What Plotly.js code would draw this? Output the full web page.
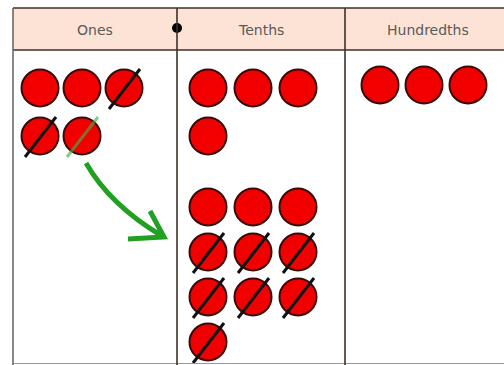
<!DOCTYPE html>
<html>
<head>
<meta charset="utf-8">
<script src="https://cdn.plot.ly/plotly-3.0.1.min.js"></script>
<style>
  html, body { margin: 0; padding: 0; background: #ffffff; }
  #chart { width: 504px; height: 365px; }
</style>
</head>
<body>
<div id="chart"></div>
<script>
// ---- DATA ----
const columnLabels = ["Ones", "Tenths", "Hundredths"];
// counter groups: which column each group sits in, how many counters, how many are crossed out (the last ones)
const groupColumn  = [0, 1, 1, 2];
const groupCount   = [5, 4, 10, 3];
const groupCrossed = [3, 0, 7, 0];
// how many of the crossed counters (the very last ones) are crossed in green (exchanged)
const groupExchanged = [1, 0, 0, 0];

// ---- LAYOUT (positions / styles, not data) ----
const W = 504, H = 365;
const colEdges = [13, 177, 345, 511];
const headerTop = 8, headerBottom = 50;
const groupX0 = [40, 208, 208, 380];
const groupY0 = [88, 88, 207, 85];
const groupDX = [42, 45, 45, 44];
const groupDY = [48, 48, 45, 45];
const perRow = 3;
const counterSize = 37;

const cx = [], cy = [];
const slashX = [], slashY = [];
const greenX = [], greenY = [];
for (let g = 0; g < groupCount.length; g++) {
  const n = groupCount[g];
  for (let i = 0; i < n; i++) {
    const x = groupX0[g] + (i % perRow) * groupDX[g];
    const y = groupY0[g] + Math.floor(i / perRow) * groupDY[g];
    cx.push(x); cy.push(y);
    if (i >= n - groupCrossed[g]) {
      const isGreen = i >= n - groupExchanged[g];
      const tx = isGreen ? greenX : slashX;
      const ty = isGreen ? greenY : slashY;
      tx.push(x - 15, x + 16, null);
      ty.push(y + 21, y - 19, null);
    }
  }
}

const traces = [
  {
    type: "scatter", mode: "markers", x: cx, y: cy, hoverinfo: "skip",
    marker: { symbol: "circle", size: counterSize, color: "#f20000",
              line: { color: "#3a0a0a", width: 2 } }
  },
  {
    type: "scatter", mode: "lines", x: slashX, y: slashY, hoverinfo: "skip",
    line: { color: "#111111", width: 3 }
  },
  {
    type: "scatter", mode: "lines", x: greenX, y: greenY, hoverinfo: "skip",
    line: { color: "rgba(70,170,70,0.65)", width: 3 }
  }
];

const lineDark = "#3d3129";
const shapes = [
  // header fill
  { type: "rect", xref: "x", yref: "y", x0: colEdges[0], x1: W + 2, y0: headerTop, y1: headerBottom,
    fillcolor: "#fce3d5", line: { width: 0 }, layer: "below" },
  // header lines
  { type: "line", xref: "x", yref: "y", x0: colEdges[0], x1: W + 2, y0: headerTop, y1: headerTop,
    line: { color: lineDark, width: 1.6 } },
  { type: "line", xref: "x", yref: "y", x0: colEdges[0], x1: W + 2, y0: headerBottom, y1: headerBottom,
    line: { color: lineDark, width: 1.6 } },
  // bottom faint line
  { type: "line", xref: "x", yref: "y", x0: colEdges[0], x1: W + 2, y0: H - 1.5, y1: H - 1.5,
    line: { color: "#9a9a9a", width: 1 } },
  // green exchange arrow
  { type: "path", xref: "x", yref: "y", path: "M 86 163 Q 110 205 162 236",
    line: { color: "#22a022", width: 5 } },
  { type: "path", xref: "x", yref: "y", path: "M 128 239 L 164 237 L 150 211",
    line: { color: "#22a022", width: 5 } },
  // decimal point
  { type: "circle", xref: "x", yref: "y", x0: colEdges[1] - 5, x1: colEdges[1] + 5, y0: 23, y1: 33,
    fillcolor: "#000000", line: { color: "#000000", width: 0 } }
];
for (let c = 0; c < 3; c++) {
  shapes.push({ type: "line", xref: "x", yref: "y", x0: colEdges[c], x1: colEdges[c], y0: headerTop, y1: H + 2,
    line: { color: c === 0 ? "#6a6a6a" : lineDark, width: 1.6 } });
}

const annotations = columnLabels.map((t, c) => ({
  x: (colEdges[c] + colEdges[c + 1]) / 2, y: (headerTop + headerBottom) / 2 + 1,
  xref: "x", yref: "y", text: t, showarrow: false,
  font: { family: "DejaVu Sans", size: 14, color: "#5a5a5a" }
}));

const layout = {
  width: W, height: H,
  margin: { l: 0, r: 0, t: 0, b: 0 },
  paper_bgcolor: "#ffffff", plot_bgcolor: "#ffffff",
  showlegend: false,
  xaxis: { range: [0, W], visible: false, fixedrange: true },
  yaxis: { range: [H, 0], visible: false, fixedrange: true },
  shapes: shapes,
  annotations: annotations
};

Plotly.newPlot("chart", traces, layout, { displayModeBar: false, staticPlot: true });
</script>
</body>
</html>
